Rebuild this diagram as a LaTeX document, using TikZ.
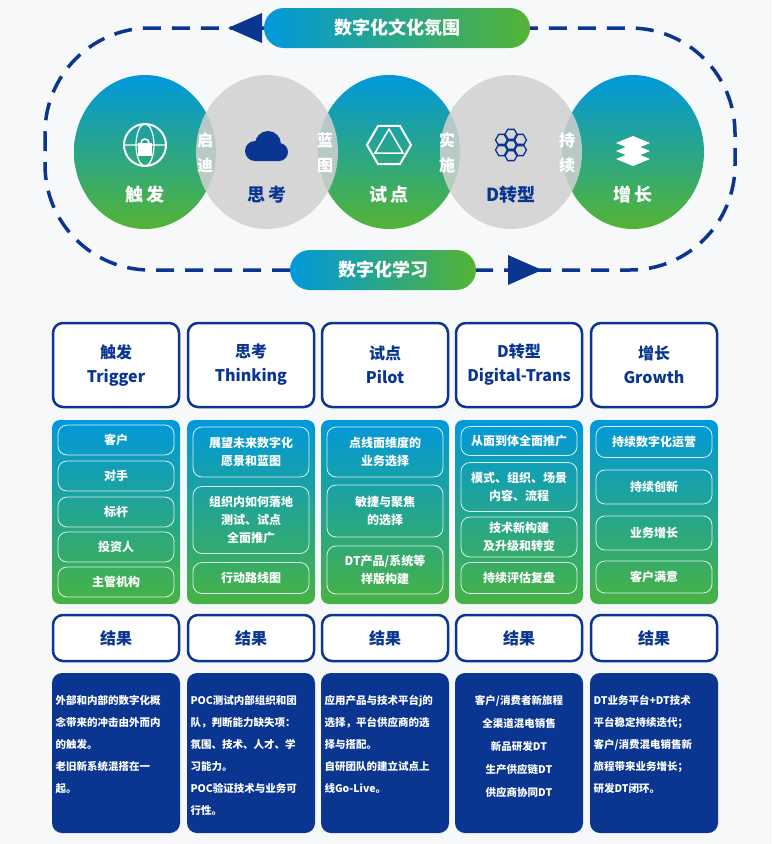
\documentclass[tikz,border=0pt]{standalone}
\usepackage{fontspec}
\setmainfont{Noto Sans CJK SC}
\usetikzlibrary{shapes.geometric}
\definecolor{navy}{RGB}{10,54,145}
\definecolor{cblue}{RGB}{0,152,220}
\definecolor{cteal}{RGB}{0,168,150}
\definecolor{cgreen}{RGB}{84,180,52}
\definecolor{bg}{RGB}{247,248,250}
\begin{document}
\begin{tikzpicture}[x=1pt, y=-1pt,
    pill/.style={rounded corners=20pt, left color=cblue, middle color=cteal, right color=cgreen, text=white, font=\fontsize{18}{20}\selectfont\bfseries, minimum height=40pt},
    stage/.style={ellipse, minimum width=142pt, minimum height=154pt, top color=cblue, middle color=cteal, bottom color=cgreen},
    bridge/.style={ellipse, minimum width=142pt, minimum height=154pt, fill=black!18, fill opacity=0.85},
    stagelabel/.style={font=\fontsize{18}{20}\selectfont\bfseries, text=white},
    joinlabel/.style={font=\fontsize{16}{25}\selectfont\bfseries, text=white, align=center},
    head/.style={draw=navy, line width=2.5pt, fill=white, rounded corners=10pt, minimum width=126pt, minimum height=84pt, align=center, font=\fontsize{16}{24}\selectfont\bfseries, text=navy},
    panel/.style={rounded corners=8pt, top color=cblue, middle color=cteal, bottom color=cgreen!85!cteal, minimum width=128pt, minimum height=184pt},
    item/.style={draw=white!85!cteal, line width=0.8pt, rounded corners=9pt, minimum width=116pt, align=center, text=white, font=\fontsize{12}{18}\selectfont\bfseries},
    result/.style={draw=navy, line width=2.5pt, fill=white, rounded corners=10pt, minimum width=126pt, minimum height=46pt, font=\fontsize{16}{20}\selectfont\bfseries, text=navy},
    note/.style={rounded corners=10pt, fill=navy, minimum width=128pt, minimum height=160pt},
    notetext/.style={text=white, font=\fontsize{10.5}{22}\selectfont\bfseries, text width=121pt},
    tip/.style={fill=navy}
]

% Background
\fill[bg] (0,0) rectangle (772,844);
\useasboundingbox (0,0) rectangle (772,844);

% Dashed loop
\draw[navy, line width=3.5pt, dash pattern=on 18pt off 11pt, rounded corners=105pt] (45,28) rectangle (735,270);

% Arrow tips on the loop
\fill[tip] (228,28) -- (262,13) -- (262,43) -- cycle;
\fill[tip] (542,270) -- (508,255) -- (508,285) -- cycle;

% Culture and learning pills
\node[pill, minimum width=266pt] (culture) at (397,28) {数字化文化氛围};
\node[pill, minimum width=186pt] (learning) at (383,270) {数字化学习};

% Stage circles
\node[stage] (trigger) at (145,152) {};
\node[stage] (pilot) at (389,152) {};
\node[stage] (grow) at (633,152) {};
\node[bridge] (think) at (267,152) {};
\node[bridge] (trans) at (511,152) {};

% Stage labels
\node[stagelabel] (ltrigger) at (145,195) {触\,发};
\node[stagelabel, text=navy] (lthink) at (267,195) {思\,考};
\node[stagelabel] (lpilot) at (389,195) {试\,点};
\node[stagelabel, text=navy] (ltrans) at (511,195) {D转型};
\node[stagelabel] (lgrow) at (633,195) {增\,长};

% Overlap labels
\node[joinlabel] (j1) at (205,153) {启\\迪};
\node[joinlabel] (j2) at (325,153) {蓝\\图};
\node[joinlabel] (j3) at (447,153) {实\\施};
\node[joinlabel] (j4) at (567,153) {持\\续};

% Icons
\draw[white, line width=2pt] (145,145) circle (21pt);
\draw[white, line width=1.2pt] (145,145) ellipse (9pt and 21pt) (124,145) -- (166,145);
\fill[white] (138,143) rectangle (152,156);
\draw[white, line width=1.5pt] (141,143) arc (180:0:4pt);
\fill[navy] (255,151) circle (10pt) (268,144) circle (13pt) (279,152) circle (9pt) (255,151) rectangle (279,161);
\node[regular polygon, regular polygon sides=6, draw=white, line width=2pt, minimum size=44pt] (hex) at (389,145) {};
\draw[white, line width=1.5pt] (389,129) -- (375,153) -- (403,153) -- cycle;
\foreach \dx/\dy in {0/-10, -9/-5, 9/-5, -9/5, 9/5, 0/10, 0/0}
  \node[regular polygon, regular polygon sides=6, draw=navy, line width=1.3pt, minimum size=13pt, inner sep=0pt] at (511+\dx,145+\dy) {};
\foreach \dy in {0,8,16}
  \fill[white] (633,136+\dy) -- (650,143+\dy) -- (633,150+\dy) -- (616,143+\dy) -- cycle;

% Columns
\foreach \x/\name/\en [count=\i] in {116/触发/Trigger, 251/思考/Thinking, 385/试点/Pilot, 519/D转型/Digital-Trans, 654/增长/Growth} {
  \node[head] (head\i) at (\x,365) {\name\\\en};
  \node[panel] (panel\i) at (\x,512) {};
  \node[result] (res\i) at (\x,638) {结果};
  \node[note] (note\i) at (\x,753) {};
}

% Trigger items
\foreach \y/\t [count=\i] in {440/客户, 476/对手, 512/标杆, 547/投资人, 582/主管机构}
  \node[item, minimum height=30pt] (ta\i) at (116,\y) {\t};

% Thinking items
\node[item, minimum height=50pt] (tb1) at (251,452) {展望未来数字化\\愿景和蓝图};
\node[item, minimum height=67pt] (tb2) at (251,520) {组织内如何落地\\测试、试点\\全面推广};
\node[item, minimum height=31pt] (tb3) at (251,578) {行动路线图};

% Pilot items
\node[item, minimum height=50pt] (tc1) at (385,452) {点线面维度的\\业务选择};
\node[item, minimum height=52pt] (tc2) at (385,511) {敏捷与聚焦\\的选择};
\node[item, minimum height=48pt] (tc3) at (385,570) {DT产品/系统等\\样版构建};

% Digital-Trans items
\node[item, minimum height=29pt] (td1) at (519,441) {从面到体全面推广};
\node[item, minimum height=49pt] (td2) at (519,487) {模式、组织、场景\\内容、流程};
\node[item, minimum height=40pt] (td3) at (519,537) {技术新构建\\及升级和转变};
\node[item, minimum height=31pt] (td4) at (519,578) {持续评估复盘};

% Growth items
\node[item, minimum height=31pt] (te1) at (654,442) {持续数字化运营};
\node[item, minimum height=34pt] (te2) at (654,487) {持续创新};
\node[item, minimum height=34pt] (te3) at (654,533) {业务增长};
\node[item, minimum height=32pt] (te4) at (654,577) {客户满意};

% Result notes
\node[notetext, anchor=north] (n1) at (116,692) {外部和内部的数字化概\\念带来的冲击由外而内\\的触发。\\老旧新系统混搭在一\\起。};
\node[notetext, anchor=north] (n2) at (251,692) {POC测试内部组织和团\\队，判断能力缺失项：\\氛围、技术、人才、学\\习能力。\\POC验证技术与业务可\\行性。};
\node[notetext, anchor=north] (n3) at (385,692) {应用产品与技术平台j的\\选择，平台供应商的选\\择与搭配。\\自研团队的建立试点上\\线Go-Live。};
\node[notetext, anchor=north, align=center, font=\fontsize{10.5}{23}\selectfont\bfseries] (n4) at (519,692) {客户/消费者新旅程\\全渠道混电销售\\新品研发DT\\生产供应链DT\\供应商协同DT};
\node[notetext, anchor=north] (n5) at (654,692) {DT业务平台+DT技术\\平台稳定持续迭代；\\客户/消费混电销售新\\旅程带来业务增长；\\研发DT闭环。};

\end{tikzpicture}
\end{document}
